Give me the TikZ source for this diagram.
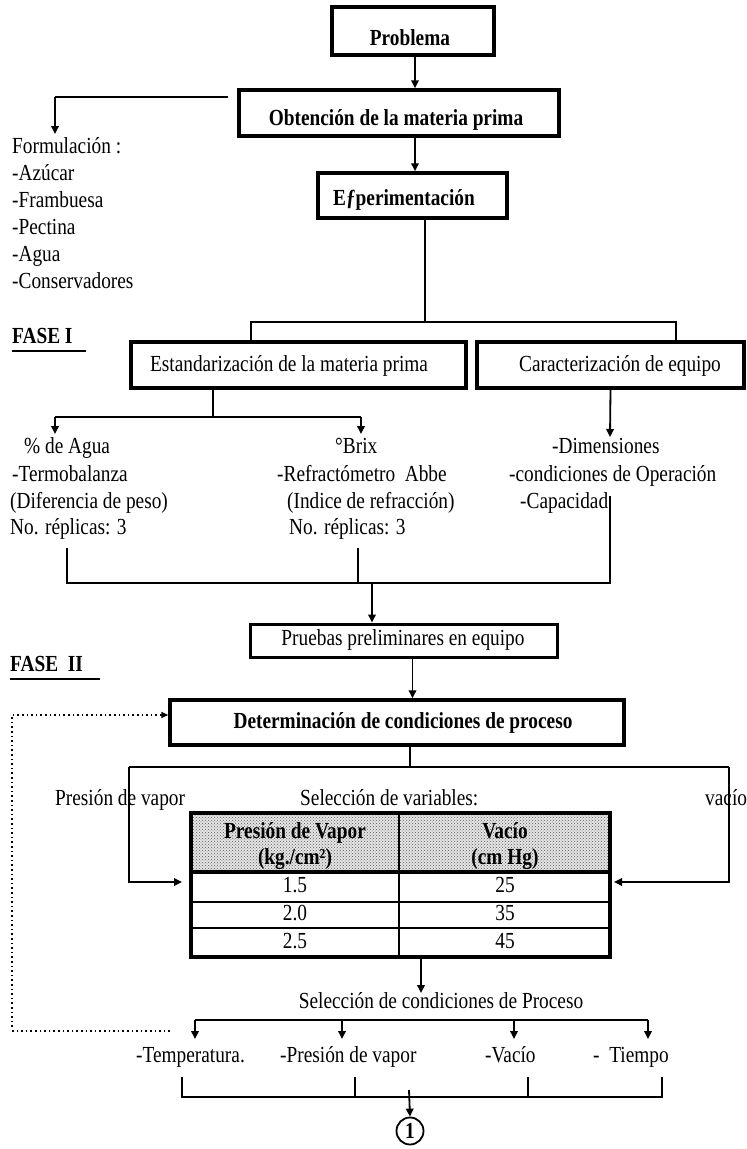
\documentclass[tikz,border=0pt]{standalone}
\usepackage{fontspec}
\setmainfont[FakeStretch=0.84]{Liberation Serif}
\usetikzlibrary{arrows.meta,patterns}
\begin{document}
\begin{tikzpicture}[x=1pt,y=-1pt,
  font=\fontsize{23}{27}\selectfont,
  box/.style={draw, line width=3.5pt, inner sep=0pt},
  ln/.style={line width=1.8pt},
  thk/.style={line width=2.6pt},
  arr/.style={ln, -{Triangle[length=8pt,width=7.5pt]}},
  txt/.style={anchor=west, inner sep=0pt, text height=16pt, text depth=5pt},
  ctxt/.style={inner sep=0pt, text height=16pt, text depth=5pt},
  btxt/.style={inner sep=0pt, text height=16pt, text depth=5pt, font=\fontsize{23}{27}\selectfont\bfseries},
  dotline/.style={line width=1.6pt, dash pattern=on 1.6pt off 3pt},
]
\useasboundingbox (0,0) rectangle (747,1149);

% ---------- top boxes ----------
\node[box, minimum width=162pt, minimum height=48pt] (prob) at (413,31) {};
\node[btxt] (probT) at (410,40) {Problema};
\node[box, minimum width=320pt, minimum height=46pt] (obt) at (399,113) {};
\node[btxt] (obtT) at (396,120) {Obtención de la materia prima};
\node[box, minimum width=189pt, minimum height=45pt] (exp) at (412.5,195.5) {};
\node[btxt] (expT) at (404,200) {Eƒperimentación};

\draw[arr] ([xshift=2pt]prob.south) -- ([xshift=2pt]prob.south |- obt.north);
\draw[arr] ([xshift=16pt]obt.south) -- ([xshift=16pt]obt.south |- exp.north);

% formulation branch
\coordinate (fA) at (228,97);
\coordinate (fB) at (55,97);
\node[txt] (form) at (12,148) {Formulación :};
\node[txt] (f1) at (12,175) {-Azúcar};
\node[txt] (f2) at (12,202) {-Frambuesa};
\node[txt] (f3) at (12,229) {-Pectina};
\node[txt] (f4) at (12,256) {-Agua};
\node[txt] (f5) at (12,283) {-Conservadores};
\draw[ln] (fA) -- (fB);
\draw[arr] (fB) -- (55,134);

% ---------- FASE I ----------
\node[btxt, anchor=west] (fase1) at (12,338) {FASE I};
\draw[ln] (fase1.south west) ++(0,2) -- ++(74,0);

\node[box, minimum width=335pt, minimum height=46pt] (est) at (298.5,365) {};
\node[ctxt] (estT) at (289,366) {Estandarización de la materia prima};
\node[box, minimum width=267pt, minimum height=46pt] (car) at (610.5,365) {};
\node[ctxt] (carT) at (620,366) {Caracterización de equipo};

\coordinate (b1) at (425,322);
\draw[ln] ([xshift=12.5pt]exp.south) -- (b1);
\draw[thk] (251,341) -- (251,322) -- (676,322) -- (676,341);

% est branch
\coordinate (eJ) at (213,417);
\draw[ln] ([xshift=-85.5pt]est.south) -- (eJ);
\draw[ln] (55,417) -- (361,417);
\draw[arr] (55,417) -- (55,434);
\draw[arr] (361,417) -- (361,434);
\draw[arr] (car.south) -- (610,437);

\node[txt] (a1) at (24,448) {\% de Agua};
\node[txt] (a2) at (12,476) {-Termobalanza};
\node[txt] (a3) at (10,503) {(Diferencia de peso)};
\node[txt] (a4) at (10,529) {No. réplicas: 3};

\node[txt] (b1t) at (335,448) {°Brix};
\node[txt] (b2t) at (277,476) {-Refractómetro\ \ Abbe};
\node[txt] (b3t) at (287,503) {(Indice de refracción)};
\node[txt] (b4t) at (289,529) {No. réplicas: 3};

\node[txt] (c1) at (552,448) {-Dimensiones};
\node[txt] (c2) at (509,476) {-condiciones de Operación};
\node[txt] (c3) at (520,503) {-Capacidad};

% join
\draw[ln] (67,548) -- (67,583) -- (610,583) -- (610,496);
\draw[ln] (358,548) -- (358,583);

\node[box, line width=3pt, minimum width=307pt, minimum height=33pt] (prue) at (403.5,640.5) {};
\node[ctxt] (prueT) at (403,640) {Pruebas preliminares en equipo};
\draw[arr] (372,583) -- (prue.north -| 372,0);

% ---------- FASE II ----------
\node[btxt, anchor=west] (fase2) at (10,666) {FASE\ \ II};
\draw[ln] (fase2.south west) ++(0,2) -- ++(90,0);

\node[box, minimum width=454pt, minimum height=45pt] (det) at (397,722.5) {};
\node[btxt] (detT) at (403,723) {Determinación de condiciones de proceso};
\draw[arr] ([xshift=9pt]prue.south) -- ([xshift=9pt]prue.south |- det.north);

\draw[ln] ([xshift=13pt]det.south) -- (410,767);
\draw[ln] (129,767) -- (729,767);

\node[txt] (pv) at (55,800) {Presión de vapor};
\node[txt] (sv) at (300,800) {Selección de variables:};
\node[txt] (vac) at (705,800) {vacío};

% table
\node[minimum width=419pt, minimum height=144pt, inner sep=0pt] (tab) at (400.5,885) {};
\fill[black!10] (191,813) rectangle (610,872);
\fill[pattern=crosshatch dots, pattern color=black!65] (191,813) rectangle (610,872);
\draw[ln] (399,813) -- (399,957);
\draw[ln] (191,902) -- (610,902);
\draw[ln] (191,928) -- (610,928);
\draw[line width=3.5pt] (191,872) -- (610,872);
\draw[line width=3.5pt] (tab.north west) rectangle (tab.south east);

\node[btxt] (h1) at (295,833) {Presión de Vapor};
\node[btxt] (h2) at (295,859) {(kg./cm²)};
\node[btxt] (h3) at (505,833) {Vacío};
\node[btxt] (h4) at (505,859) {(cm Hg)};
\node[ctxt] (r1a) at (295,887) {1.5};
\node[ctxt] (r1b) at (505,887) {25};
\node[ctxt] (r2a) at (295,915) {2.0};
\node[ctxt] (r2b) at (505,915) {35};
\node[ctxt] (r3a) at (295,943) {2.5};
\node[ctxt] (r3b) at (505,943) {45};

\draw[arr] (129,767) -- (129,882) -- (182,882);
\draw[arr] (729,767) -- (729,882) -- (614,882);

% dotted feedback
\draw[dotline, -{Triangle[length=7pt,width=6pt]}] (12,1027) -- (12,715) -- (det.west |- 0,715);
\draw[dotline] (12,1031) -- (170,1031);

% selection
\draw[arr] (421,959) -- (421,993);
\node[ctxt] (sel) at (441,1003) {Selección de condiciones de Proceso};
\draw[ln] (195,1020) -- (648,1020);
\draw[arr] (195,1020) -- (195,1039);
\draw[arr] (342,1020) -- (342,1039);
\draw[arr] (514,1020) -- (514,1039);
\draw[arr] (648,1020) -- (648,1039);

\node[txt] (p1) at (136,1057) {-Temperatura.};
\node[txt] (p2) at (280,1057) {-Presión de vapor};
\node[txt] (p3) at (485,1057) {-Vacío};
\node[txt] (p4) at (593,1057) {-\ \ Tiempo};

\draw[ln] (182,1077) -- (182,1097) -- (662,1097) -- (662,1077);
\draw[ln] (355,1077) -- (355,1097);
\draw[ln] (528,1077) -- (528,1097);

\node[draw, circle, line width=1.8pt, minimum size=27pt, inner sep=0pt, font=\fontsize{23}{27}\selectfont\bfseries] (one) at (410,1131) {1};
\draw[arr] (409,1090) -- (one.north);
\end{tikzpicture}
\end{document}
